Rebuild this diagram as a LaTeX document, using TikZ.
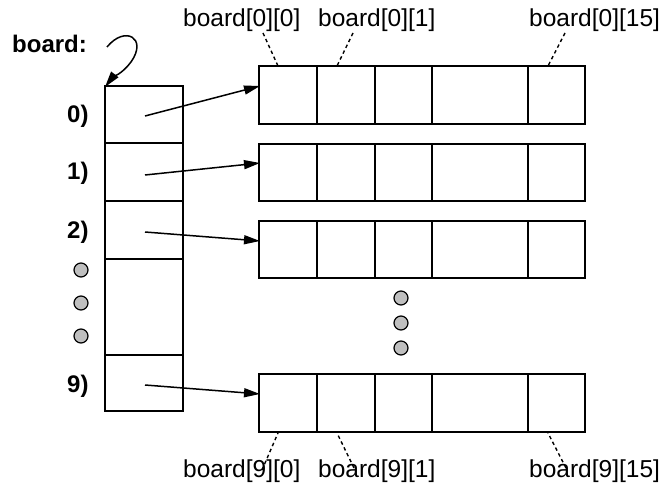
\documentclass[tikz,border=0pt]{standalone}
\usepackage{fontspec}
\setmainfont{Liberation Sans}
\usetikzlibrary{arrows.meta}
\begin{document}
\begin{tikzpicture}[x=1pt,y=-1pt,
  box/.style={draw,line width=1.7pt},
  ptr/.style={line width=1.5pt,-{Triangle[length=16pt,width=9pt]}},
  lead/.style={line width=1.4pt,dash pattern=on 3.5pt off 3pt},
  dot/.style={circle,draw,line width=1.2pt,fill=black!25,minimum size=14pt,inner sep=0pt},
  idx/.style={font=\fontsize{24.5}{28}\selectfont,inner sep=0pt,anchor=base west},
  rowlab/.style={font=\bfseries\fontsize{24}{28}\selectfont,inner sep=0pt,anchor=base west}]
\useasboundingbox (0,0) rectangle (662,492);

% array of row pointers
\draw[box] (105,86) rectangle (183,411);
\foreach \y in {143,201,259,355} \draw[box] (105,\y) -- (183,\y);

% rows of 16 cells
\foreach \t/\b in {66/124,144/201,221/278,374/432}{
  \draw[box] (259,\t) rectangle (585,\b);
  \foreach \x in {317,375,432,528} \draw[box] (\x,\t) -- (\x,\b);
}

% pointer arrows
\coordinate (p0) at (145,116); \coordinate (q0) at (260,86);
\coordinate (p1) at (145,175); \coordinate (q1) at (260,163);
\coordinate (p2) at (145,232); \coordinate (q2) at (260,241);
\coordinate (p9) at (145,385); \coordinate (q9) at (260,394);
\foreach \r in {0,1,2,9} \draw[ptr] (p\r) -- (q\r);

% row labels
\node[rowlab] (l0) at (67,123) {0)};
\node[rowlab] (l1) at (67,180) {1)};
\node[rowlab] (l2) at (67,238) {2)};
\node[rowlab] (l9) at (67,392) {9)};
\node[rowlab] (name) at (12,53) {board:};

% curly arrow from the name to the array
\coordinate (c0) at (107,47);
\coordinate (c1) at (105,87);
\draw[ptr] (c0) .. controls (125,25) and (148,38) .. (131,62) .. controls (122,74) and (112,78) .. (c1);

% omitted rows
\node[dot] (d1) at (81,270) {};
\node[dot] (d2) at (81,303) {};
\node[dot] (d3) at (81,336) {};
\node[dot] (e1) at (401,298) {};
\node[dot] (e2) at (401,323) {};
\node[dot] (e3) at (401,348) {};

% element labels
\node[idx] (t0) at (183,27) {board[0][0]};
\node[idx] (t1) at (318,27) {board[0][1]};
\node[idx] (t15) at (529,27) {board[0][15]};
\node[idx] (b0) at (183,477) {board[9][0]};
\node[idx] (b1) at (318,477) {board[9][1]};
\node[idx] (b15) at (529,477) {board[9][15]};

\coordinate (tc0) at (278,66); \coordinate (tc1) at (337,66); \coordinate (tc15) at (548,66);
\coordinate (bc0) at (278,433); \coordinate (bc1) at (337,433); \coordinate (bc15) at (548,433);
\draw[lead] (263,33) -- (tc0);
\draw[lead] (353,33) -- (tc1);
\draw[lead] (565,33) -- (tc15);
\draw[lead] (262,470) -- (bc0);
\draw[lead] (354,468) -- (bc1);
\draw[lead] (566,468) -- (bc15);
\end{tikzpicture}
\end{document}
